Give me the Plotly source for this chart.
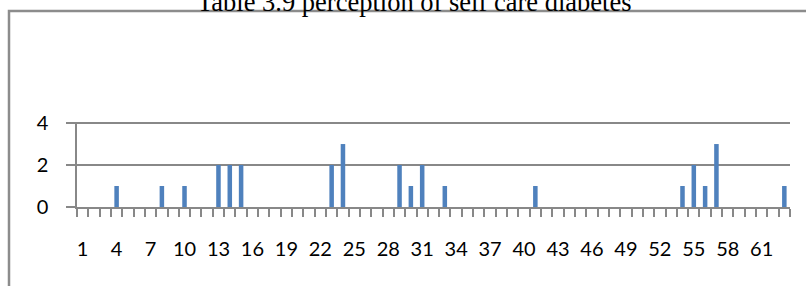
import plotly.graph_objects as go

# Data
categories = list(range(1, 64))
values = [0] * 63
nonzero = {4: 1, 8: 1, 10: 1, 13: 2, 14: 2, 15: 2, 23: 2, 24: 3, 29: 2, 30: 1,
           31: 2, 33: 1, 41: 1, 54: 1, 55: 2, 56: 1, 57: 3, 63: 1}
for k, v in nonzero.items():
    values[k - 1] = v
tick_labels = list(range(1, 62, 3))
y_ticks = [0, 2, 4]
title_text = "Table 3.9 perception of self care diabetes"

W, H = 806, 286
L, R, T, B = 77, 16, 122, 79
pw, ph = W - L - R, H - T - B

def px_x(p):
    return (p - L) / pw

def px_y(p):
    return (H - B - p) / ph

grid = "#888888"
fig = go.Figure()
fig.add_trace(go.Bar(x=categories, y=values, width=0.4,
                     marker=dict(color="#4F81BD", line=dict(width=0))))

fig.update_layout(
    width=W, height=H,
    margin=dict(l=L, r=R, t=T, b=B, pad=0),
    paper_bgcolor="white", plot_bgcolor="white",
    showlegend=False,
    font=dict(family="Lato, Noto Sans, sans-serif", size=20, color="black"),
    xaxis=dict(
        range=[0.5, 63.5], tickmode="array", tickvals=tick_labels,
        ticktext=[str(t) for t in tick_labels], ticks="", showgrid=False,
        showline=True, linecolor=grid, linewidth=2, zeroline=False,
        ticklabelstandoff=23,
        minor=dict(tickmode="array", tickvals=[c + 0.5 for c in range(0, 64)],
                   ticks="outside", ticklen=8, tickcolor=grid, tickwidth=1.5,
                   showgrid=False),
    ),
    yaxis=dict(
        range=[0, 4.05], tickmode="array", tickvals=y_ticks, ticks="outside",
        ticklen=9, tickcolor=grid, tickwidth=1.5, showgrid=True, gridcolor=grid,
        gridwidth=1.5, showline=True, linecolor=grid, linewidth=1.5,
        zeroline=False, ticklabelstandoff=14,
    ),
    shapes=[dict(type="rect", xref="paper", yref="paper",
                 x0=px_x(9), x1=px_x(830), y0=px_y(310), y1=px_y(11),
                 line=dict(color="#8c8c8c", width=2.5), layer="below")],
    annotations=[dict(text=title_text, xref="paper", yref="paper",
                      x=px_x(414), y=px_y(1.5), xanchor="center", yanchor="middle",
                      showarrow=False,
                      font=dict(family="Liberation Serif, Times New Roman, serif",
                                size=26.5, color="black"))],
)

fig.write_html("out.html", config={"displayModeBar": False},
               post_script="document.body.style.margin='0';")
